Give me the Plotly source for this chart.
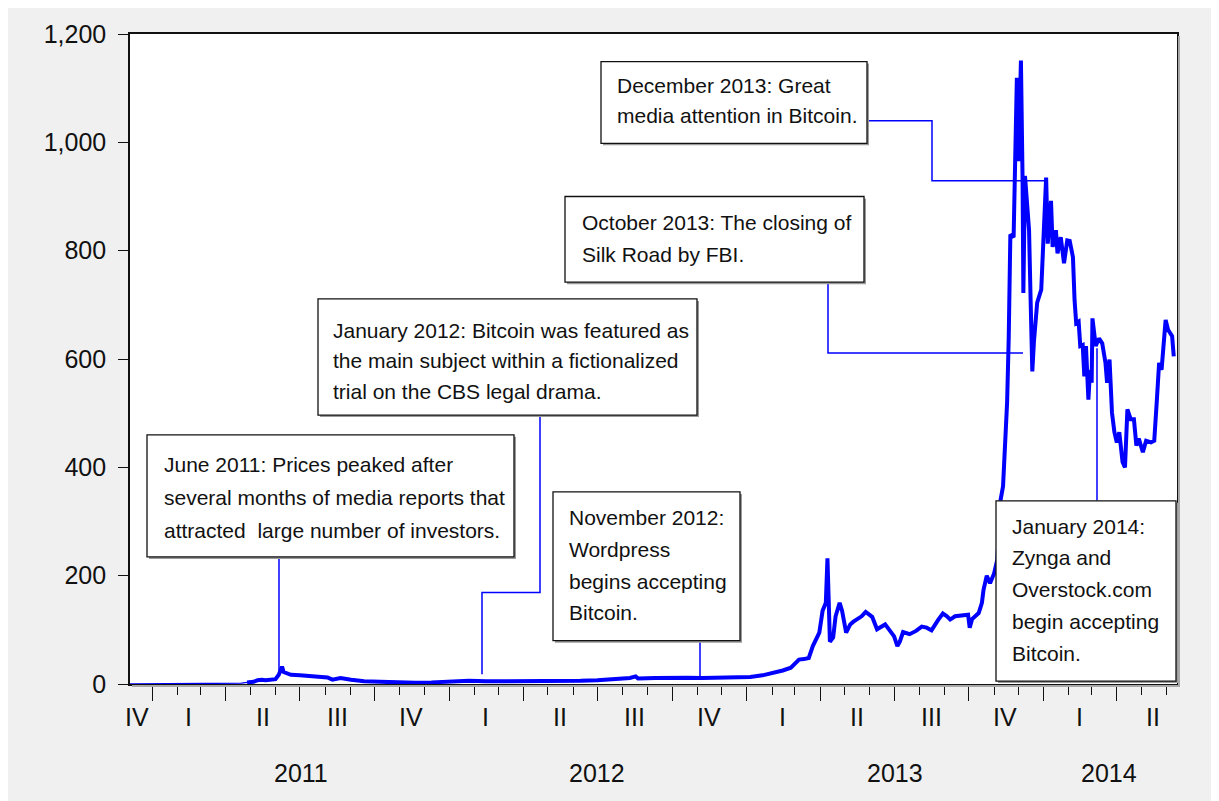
import plotly.graph_objects as go

# ---------------- data ----------------
dates = [
    "2010-12-04", "2010-12-20", "2011-01-10", "2011-02-01", "2011-02-10", "2011-03-01",
    "2011-03-20", "2011-04-05", "2011-04-20", "2011-04-27", "2011-05-05", "2011-05-10",
    "2011-05-15", "2011-05-20", "2011-05-25", "2011-06-01", "2011-06-05", "2011-06-08",
    "2011-06-09", "2011-06-11", "2011-06-15", "2011-06-20", "2011-07-01", "2011-07-15",
    "2011-07-25", "2011-08-04", "2011-08-10", "2011-08-20", "2011-09-02", "2011-09-18",
    "2011-10-08", "2011-10-29", "2011-11-20", "2011-12-10", "2011-12-23", "2012-01-10",
    "2012-01-25", "2012-02-15", "2012-03-10", "2012-04-22", "2012-05-20", "2012-06-10",
    "2012-07-01", "2012-07-22", "2012-08-10", "2012-08-17", "2012-08-20", "2012-09-10",
    "2012-10-01", "2012-10-20", "2012-11-07", "2012-11-25", "2012-12-25", "2013-01-05",
    "2013-01-20", "2013-02-03", "2013-02-14", "2013-02-24", "2013-03-06", "2013-03-12",
    "2013-03-18", "2013-03-23", "2013-03-28", "2013-03-31", "2013-04-04", "2013-04-08",
    "2013-04-10", "2013-04-12", "2013-04-13", "2013-04-17", "2013-04-20", "2013-04-25",
    "2013-04-28", "2013-05-03", "2013-05-08", "2013-05-12", "2013-05-16", "2013-05-22",
    "2013-05-27", "2013-06-04", "2013-06-10", "2013-06-14", "2013-06-20", "2013-06-26",
    "2013-07-01", "2013-07-05", "2013-07-08", "2013-07-12", "2013-07-20", "2013-07-28",
    "2013-08-04", "2013-08-10", "2013-08-16", "2013-08-24", "2013-08-30", "2013-09-04",
    "2013-09-08", "2013-09-14", "2013-09-21", "2013-09-30", "2013-10-02", "2013-10-05",
    "2013-10-13", "2013-10-17", "2013-10-19", "2013-10-23", "2013-10-27", "2013-11-01",
    "2013-11-05", "2013-11-07", "2013-11-09", "2013-11-12", "2013-11-15", "2013-11-17",
    "2013-11-19", "2013-11-21", "2013-11-25", "2013-11-27", "2013-11-29", "2013-12-01",
    "2013-12-04", "2013-12-06", "2013-12-07", "2013-12-09", "2013-12-12", "2013-12-14",
    "2013-12-16", "2013-12-18", "2013-12-20", "2013-12-24", "2013-12-29", "2014-01-01",
    "2014-01-04", "2014-01-06", "2014-01-10", "2014-01-12", "2014-01-16", "2014-01-18",
    "2014-01-22", "2014-01-26", "2014-01-30", "2014-02-02", "2014-02-06", "2014-02-08",
    "2014-02-10", "2014-02-13", "2014-02-15", "2014-02-18", "2014-02-20", "2014-02-22",
    "2014-02-25", "2014-02-27", "2014-03-01", "2014-03-02", "2014-03-06", "2014-03-10",
    "2014-03-14", "2014-03-18", "2014-03-20", "2014-03-23", "2014-03-26", "2014-03-29",
    "2014-04-01", "2014-04-04", "2014-04-08", "2014-04-11", "2014-04-14", "2014-04-18",
    "2014-04-22", "2014-04-25", "2014-04-28", "2014-05-03", "2014-05-07", "2014-05-13",
    "2014-05-17", "2014-05-20", "2014-05-23", "2014-05-26", "2014-05-29", "2014-05-31",
    "2014-06-03", "2014-06-08", "2014-06-10",
]
prices = [
    0.2, 0.25, 0.3, 0.7, 1.0, 0.9,
    0.8, 0.7, 1.5, 3, 4, 7,
    8, 7, 8, 9, 17, 30,
    32, 22, 19, 17, 16, 14,
    14, 12, 8, 11, 8, 5,
    4, 3, 2.5, 3, 4, 6.5,
    6, 5, 5, 5, 5.1, 6,
    7, 9, 11, 14, 10, 11,
    12, 11.5, 11, 12, 13, 13,
    16, 20, 25, 30, 45, 46,
    48, 70, 85, 95, 135, 150,
    232, 110, 78, 86, 125, 150,
    135, 95, 110, 115, 119, 125,
    133, 124, 101, 105, 110, 98,
    88, 70, 78, 96, 92, 98,
    106, 104, 99, 118, 130, 125,
    119, 125, 127, 128, 104, 120,
    131, 150, 174, 200, 186, 204,
    230, 290, 340, 365, 440, 520,
    640, 830, 825, 1000, 1119, 965,
    1151, 935, 722, 938, 874, 838,
    704, 577, 632, 704, 728, 825,
    935, 813, 892, 807, 838, 795,
    825, 777, 819, 818, 788, 708,
    666, 669, 624, 626, 568, 624,
    525, 580, 556, 675, 624, 638,
    629, 593, 556, 599, 501, 465,
    446, 465, 410, 400, 507, 489,
    489, 440, 453, 428, 449, 446,
    449, 519, 593, 580, 629, 672,
    654, 642, 605,
]

quarter_starts = ["2011-01-01", "2011-04-01", "2011-07-01", "2011-10-01",
                  "2012-01-01", "2012-04-01", "2012-07-01", "2012-10-01",
                  "2013-01-01", "2013-04-01", "2013-07-01", "2013-10-01",
                  "2014-01-01", "2014-04-01"]
quarter_label_dates = ["2010-12-13", "2011-02-14", "2011-05-16", "2011-08-16", "2011-11-15",
                       "2012-02-14", "2012-05-16", "2012-08-16", "2012-11-15",
                       "2013-02-14", "2013-05-16", "2013-08-16", "2013-11-15",
                       "2014-02-14", "2014-05-16"]
quarter_labels = ["IV", "I", "II", "III", "IV", "I", "II", "III", "IV",
                  "I", "II", "III", "IV", "I", "II"]
year_label_dates = ["2011-07-02", "2012-07-01", "2013-07-02", "2014-03-22"]
year_labels = ["2011", "2012", "2013", "2014"]

y_ticks = [0, 200, 400, 600, 800, 1000, 1200]

notes = [
    {"lines": ["June 2011: Prices peaked after",
               "several months of media reports that",
               "attracted  large number of investors."],
     "box": (147, 431, 514, 555), "tx": 162, "ty": [461, 494.5, 528]},
    {"lines": ["January 2012: Bitcoin was featured as",
               "the main subject within a fictionalized",
               "trial on the CBS legal drama."],
     "box": (318, 293, 697, 411), "tx": 331, "ty": [325, 356, 387]},
    {"lines": ["November 2012:", "Wordpress", "begins accepting", "Bitcoin."],
     "box": (553, 489, 740, 640), "tx": 567, "ty": [514.5, 547, 579.5, 611]},
    {"lines": ["October 2013: The closing of", "Silk Road by FBI."],
     "box": (565, 189, 864, 276), "tx": 580, "ty": [215, 248]},
    {"lines": ["December 2013: Great", "media attention in Bitcoin."],
     "box": (601, 52, 867, 135), "tx": 615, "ty": [76, 107]},
    {"lines": ["January 2014:", "Zynga and", "Overstock.com", "begin accepting", "Bitcoin."],
     "box": (996, 498, 1176, 681), "tx": 1010, "ty": [524.5, 556, 588, 621, 653]},
]
leaders = [
    [(279, 555), (279, 675)],
    [(540, 411), (540, 591), (482, 591), (482, 674)],
    [(700, 640), (700, 677)],
    [(828, 276), (828, 348), (1023, 348)],
    [(867, 112), (932, 112), (932, 173), (1045, 173)],
    [(1097, 498), (1097, 343)],
]

# ---------------- layout geometry (page pixels; page has an 8px body margin) ----------------
W, H = 1219, 801
OX, OY = 8, 8
PL, PR, PT, PB = 130, 1177, 24, 684          # plot frame in page pixels
ML, MT = PL - OX, PT - OY
MR = W - (PR - OX)
MB = H - (PB - OY)
PW, PH = PR - PL, PB - PT


def px(x):
    return (x - PL) / PW


def py(y):
    return (PB - y) / PH


AXFONT = dict(family="Liberation Sans, Arial, sans-serif", size=25, color="#111111")
TXTFONT = dict(family="Liberation Sans, Arial, sans-serif", size=21, color="#111111")
BLUE = "#0000FF"

fig = go.Figure()
split = dates.index("2011-04-27")
fig.add_trace(go.Scatter(x=dates[:split + 1], y=prices[:split + 1], mode="lines",
                         line=dict(color=BLUE, width=1.3), hoverinfo="skip"))
fig.add_trace(go.Scatter(x=dates[split:], y=prices[split:], mode="lines",
                         line=dict(color=BLUE, width=4), hoverinfo="skip"))

shapes = []
annotations = []

# leader lines
for pts in leaders:
    path = "M " + " L ".join(f"{px(a):.5f},{py(b):.5f}" for a, b in pts)
    shapes.append(dict(type="path", xref="paper", yref="paper", path=path,
                       line=dict(color=BLUE, width=1.5)))

# boxes + text
for n in notes:
    x0, y0, x1, y1 = n["box"]
    shapes.append(dict(type="rect", xref="paper", yref="paper",
                       x0=px(x0 + 2), x1=px(x1 + 2), y0=py(y1 + 2), y1=py(y0 + 2),
                       fillcolor="#9a9a9a", line=dict(width=0)))
    shapes.append(dict(type="rect", xref="paper", yref="paper",
                       x0=px(x0), x1=px(x1), y0=py(y1), y1=py(y0),
                       fillcolor="white", line=dict(color="#111111", width=1.3)))
    for txt, yy in zip(n["lines"], n["ty"]):
        annotations.append(dict(text=txt, xref="paper", yref="paper",
                                x=px(n["tx"]), y=py(yy), xanchor="left", yanchor="middle",
                                showarrow=False, font=TXTFONT))

# frame shadow
shapes.append(dict(type="line", xref="paper", yref="paper", x0=px(1179), x1=px(1179),
                   y0=py(686), y1=py(26), line=dict(color="#a8a8a8", width=2)))
shapes.append(dict(type="line", xref="paper", yref="paper", x0=px(132), x1=px(1180),
                   y0=py(686), y1=py(686), line=dict(color="#a8a8a8", width=2)))

# quarter / year labels
for d, t in zip(quarter_label_dates, quarter_labels):
    annotations.append(dict(text=t, x=d, xref="x", y=py(718), yref="paper",
                            xanchor="center", yanchor="middle", showarrow=False, font=AXFONT))
for d, t in zip(year_label_dates, year_labels):
    annotations.append(dict(text=t, x=d, xref="x", y=py(774), yref="paper",
                            xanchor="center", yanchor="middle", showarrow=False, font=AXFONT))

fig.update_layout(
    width=W, height=H,
    margin=dict(l=ML, r=MR, t=MT, b=MB, pad=0),
    paper_bgcolor="#F0F0F0", plot_bgcolor="white",
    showlegend=False,
    shapes=shapes, annotations=annotations,
    xaxis=dict(type="date", range=["2010-12-04", "2014-06-14"],
               tickmode="array", tickvals=quarter_starts, showticklabels=False,
               ticks="outside", ticklen=15, tickwidth=1.2, tickcolor="#111111",
               minor=dict(ticks="outside", ticklen=9, tickwidth=1.2, tickcolor="#111111",
                          dtick="M1", tick0="2010-12-01", showgrid=False),
               showgrid=False, zeroline=False, showline=True, linecolor="#111111",
               linewidth=1.6, mirror=True),
    yaxis=dict(range=[0, 1200], tickmode="array", tickvals=y_ticks, tickformat=",",
               ticks="outside", ticklen=10, tickwidth=1.2, tickcolor="#111111",
               tickfont=AXFONT, ticklabelstandoff=7,
               showgrid=False, zeroline=False, showline=True, linecolor="#111111",
               linewidth=1.6, mirror=True),
)

fig.write_html("out.html")
